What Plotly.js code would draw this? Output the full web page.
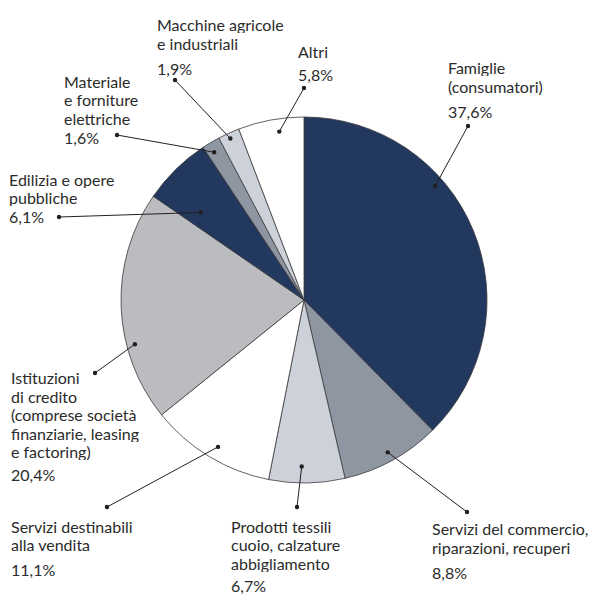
<!DOCTYPE html>
<html><head><meta charset="utf-8">
<script src="https://cdn.plot.ly/plotly-3.0.1.min.js"></script>
<style>html,body{margin:0;padding:0;background:#fff}#chart{width:595px;height:595px}</style>
</head><body><div id="chart"></div>
<script>
// ---- data ----
const categories = ["Famiglie (consumatori)", "Servizi del commercio, riparazioni, recuperi", "Prodotti tessili cuoio, calzature abbigliamento", "Servizi destinabili alla vendita", "Istituzioni di credito (comprese società finanziarie, leasing e factoring)", "Edilizia e opere pubbliche", "Materiale e forniture elettriche", "Macchine agricole e industriali", "Altri"];
const shares = [37.6, 8.8, 6.7, 11.1, 20.4, 6.1, 1.6, 1.9, 5.8];
const labelLines = [["Famiglie","(consumatori)"], ["Servizi del commercio,","riparazioni, recuperi"], ["Prodotti tessili","cuoio, calzature","abbigliamento"], ["Servizi destinabili","alla vendita"], ["Istituzioni","di credito","(comprese società","finanziarie, leasing","e factoring)"], ["Edilizia e opere","pubbliche"], ["Materiale","e forniture","elettriche"], ["Macchine agricole","e industriali"], ["Altri"]];

// ---- style / positions ----
const sliceColors = ["#22385f", "#8e96a2", "#cdd2da", "#ffffff", "#bbbcc0", "#22385f", "#8e96a2", "#cdd2da", "#ffffff"];
const W = 595, H = 595;
const pieCx = 304, pieCy = 300, pieR = 183;
const FONT = {family: "Lato, 'Open Sans', sans-serif", size: 16, color: "#2b2b2b"};
const lineStep = 18.5;
const baseOff = 6.0;
const labelPos = [ // left x, first-line baseline, percent baseline (px)
  {x:448, y:73.3, p:116.7},
  {x:432, y:534, p:578},
  {x:231, y:531.7, p:591},
  {x:11, y:531.7, p:575},
  {x:11, y:383, p:480},
  {x:9, y:185, p:222},
  {x:64, y:87, p:143},
  {x:157, y:30.5, p:74},
  {x:298, y:56.5, p:80}
];
const leaderOuter = [[468,126],[467,512],[297,507],[107,507],[95,373],[59,217],[117,135],[175,80],[304,88]];
const leaderInner = [[0.362,0.95],[0.5,0.95],[0.57,0.91],[0.48,0.93],[0.33,0.955],[0.26,0.74],[0.38,0.945],[0.47,0.97],[0.6,0.93]];

const px = x => x / W;
const py = y => 1 - y / H;

const total = shares.reduce((a, b) => a + b, 0);
const annotations = [];
const shapes = [];
const mkText = (t, x, baseline) => ({text: t, showarrow: false, xref: 'paper', yref: 'paper', xanchor: 'left', yanchor: 'middle',
  x: px(x - 1), y: py(baseline - baseOff), font: FONT, borderpad: 0, height: lineStep - 0.5});
let cum = 0;
shares.forEach((v, i) => {
  const a0 = cum / total * 360, span = v / total * 360;
  cum += v;
  const ang = (a0 + leaderInner[i][0] * span) * Math.PI / 180;
  const rr = leaderInner[i][1] * pieR;
  const ix = pieCx + rr * Math.sin(ang), iy = pieCy - rr * Math.cos(ang);
  const [ox, oy] = leaderOuter[i];
  shapes.push({type: 'line', xref: 'paper', yref: 'paper', x0: px(ix), y0: py(iy), x1: px(ox), y1: py(oy), line: {color: '#231f20', width: 1}});
  [[ix, iy], [ox, oy]].forEach(([cx, cy]) => {
    shapes.push({type: 'circle', xref: 'paper', yref: 'paper', x0: px(cx - 2.2), x1: px(cx + 2.2), y0: py(cy + 2.2), y1: py(cy - 2.2), fillcolor: '#231f20', line: {width: 0}});
  });
  const lp = labelPos[i];
  labelLines[i].forEach((t, k) => annotations.push(mkText(t, lp.x, lp.y + k * lineStep)));
  annotations.push(mkText(v.toFixed(1).replace('.', ',') + '%', lp.x, lp.p));
});

const trace = {
  type: 'pie', values: shares, labels: categories, sort: false, direction: 'clockwise', rotation: 0,
  marker: {colors: sliceColors, line: {color: '#3a3a3a', width: 0.8}},
  textinfo: 'none', hoverinfo: 'skip', showlegend: false,
  domain: {x: [px(pieCx - pieR), px(pieCx + pieR)], y: [py(pieCy + pieR), py(pieCy - pieR)]}
};

Plotly.newPlot('chart', [trace], {
  width: W, height: H, margin: {l: 0, r: 0, t: 0, b: 0},
  paper_bgcolor: '#fff', showlegend: false, annotations, shapes
}, {staticPlot: true});
</script></body></html>
